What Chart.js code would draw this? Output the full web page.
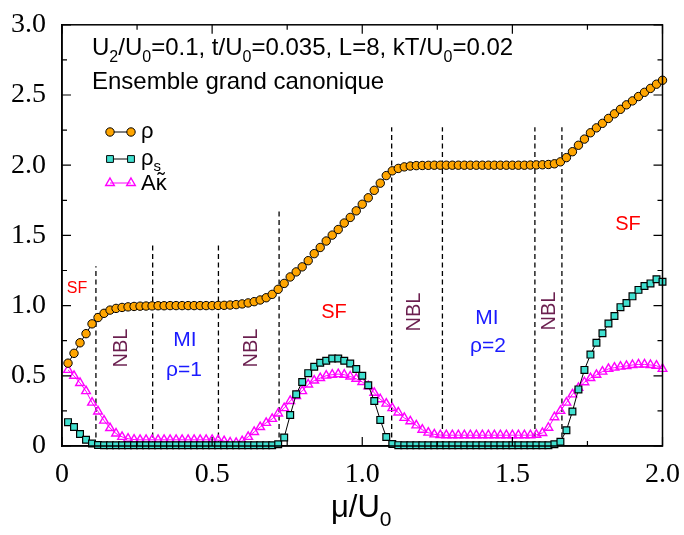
<!DOCTYPE html>
<html>
<head>
<meta charset="utf-8">
<script src="https://cdn.jsdelivr.net/npm/chart.js@4.4.0/dist/chart.umd.min.js"></script>
<style>
  html, body { margin: 0; padding: 0; background: #fff; }
</style>
</head>
<body>
<canvas id="chart" width="684" height="535"></canvas>
<script>
// mu/U0 values of the grid
var mu = [0.02,0.04,0.06,0.08,0.10,0.12,0.14,0.16,0.18,0.20,
  0.22,0.24,0.26,0.28,0.30,0.32,0.34,0.36,0.38,0.40,
  0.42,0.44,0.46,0.48,0.50,0.52,0.54,0.56,0.58,0.60,
  0.62,0.64,0.66,0.68,0.70,0.72,0.74,0.76,0.78,0.80,
  0.82,0.84,0.86,0.88,0.90,0.92,0.94,0.96,0.98,1.00,
  1.02,1.04,1.06,1.08,1.10,1.12,1.14,1.16,1.18,1.20,
  1.22,1.24,1.26,1.28,1.30,1.32,1.34,1.36,1.38,1.40,
  1.42,1.44,1.46,1.48,1.50,1.52,1.54,1.56,1.58,1.60,
  1.62,1.64,1.66,1.68,1.70,1.72,1.74,1.76,1.78,1.80,
  1.82,1.84,1.86,1.88,1.90,1.92,1.94,1.96,1.98,2.00];

// density rho
var rho = [0.59,0.66,0.735,0.80,0.87,0.915,0.945,0.968,0.98,0.987,
  0.991,0.994,0.996,0.997,0.998,0.999,0.999,1.0,1.0,1.0,
  1.0,1.0,1.0,1.0,1.0,1.001,1.002,1.004,1.007,1.012,
  1.019,1.028,1.04,1.056,1.08,1.116,1.158,1.204,1.24,1.276,
  1.32,1.37,1.414,1.46,1.502,1.542,1.588,1.628,1.675,1.722,
  1.768,1.821,1.872,1.926,1.96,1.977,1.988,1.994,1.997,1.998,
  1.999,2.0,2.0,2.0,2.0,2.0,2.0,2.0,2.0,2.0,
  2.0,2.0,2.0,2.0,2.0,2.0,2.0,2.001,2.002,2.003,
  2.005,2.01,2.024,2.054,2.096,2.142,2.186,2.231,2.266,2.298,
  2.333,2.366,2.398,2.43,2.458,2.489,2.519,2.547,2.577,2.605];

// superfluid density rho_s
var rhoS = [0.17,0.135,0.085,0.045,0.018,0.007,0.005,0.005,0.005,0.005,
  0.005,0.005,0.005,0.005,0.005,0.005,0.005,0.005,0.005,0.005,
  0.005,0.005,0.005,0.005,0.005,0.005,0.005,0.005,0.005,0.005,
  0.005,0.005,0.005,0.005,0.005,0.012,0.061,0.221,0.368,0.456,
  0.519,0.565,0.593,0.607,0.623,0.623,0.607,0.588,0.549,0.50,
  0.433,0.321,0.186,0.064,0.014,0.006,0.005,0.005,0.005,0.005,
  0.005,0.005,0.005,0.005,0.005,0.005,0.005,0.005,0.005,0.005,
  0.005,0.005,0.005,0.005,0.005,0.005,0.005,0.005,0.005,0.005,
  0.005,0.012,0.03,0.112,0.246,0.403,0.542,0.651,0.735,0.803,
  0.872,0.926,0.989,1.019,1.066,1.112,1.14,1.158,1.188,1.17];

// compressibility A*kappa
var aKappa = [0.542,0.50,0.449,0.391,0.309,0.246,0.181,0.128,0.089,0.065,
  0.052,0.046,0.044,0.044,0.044,0.044,0.044,0.044,0.044,0.044,
  0.044,0.044,0.044,0.044,0.044,0.042,0.035,0.025,0.022,0.035,
  0.065,0.10,0.135,0.165,0.193,0.232,0.27,0.321,0.356,0.391,
  0.438,0.466,0.484,0.501,0.508,0.512,0.508,0.495,0.479,0.456,
  0.426,0.379,0.333,0.302,0.27,0.239,0.2,0.176,0.147,0.116,
  0.095,0.083,0.078,0.077,0.077,0.077,0.077,0.077,0.077,0.077,
  0.077,0.077,0.077,0.077,0.077,0.077,0.077,0.077,0.08,0.093,
  0.13,0.205,0.25,0.309,0.368,0.414,0.454,0.484,0.507,0.53,
  0.549,0.558,0.565,0.57,0.577,0.581,0.581,0.577,0.572,0.549];

// dashed phase boundaries (mu position, top of the line)
var phaseBounds = [0.113, 0.302, 0.521, 0.723, 1.098, 1.267, 1.575, 1.665];
var boundTops = [1.28, 1.43, 1.43, 1.68, 2.27, 2.27, 2.27, 2.27];

var xTickLabels = ['0', '0.5', '1.0', '1.5', '2.0'];
var yTickLabels = ['0', '0.5', '1.0', '1.5', '2.0', '2.5', '3.0'];

var SANS = '"Liberation Sans", Arial, sans-serif';
var SERIF = '"Liberation Serif", "Times New Roman", serif';

// tick labels use the default font
Chart.defaults.font.family = SERIF;
Chart.defaults.font.size = 28;
Chart.defaults.color = '#000';

function pts(vals) {
  return mu.map(function (m, i) { return { x: m, y: vals[i] }; });
}

var datasets = [
  { label: 'rho', data: pts(rho), borderColor: '#000', borderWidth: 1,
    pointStyle: 'circle', pointRadius: 4.2, pointBackgroundColor: '#ffa500',
    pointBorderColor: '#000', pointBorderWidth: 1, clip: false },
  { label: 'rhoS', data: pts(rhoS), borderColor: '#000', borderWidth: 1,
    pointStyle: 'rect', pointRadius: 4.8, pointBackgroundColor: '#40e0d0',
    pointBorderColor: '#000', pointBorderWidth: 1.2, clip: false },
  { label: 'aKappa', data: pts(aKappa), borderColor: '#ff00ff', borderWidth: 1,
    pointStyle: 'triangle', pointRadius: 5, pointBackgroundColor: 'rgba(0,0,0,0)',
    pointBorderColor: '#ff00ff', pointBorderWidth: 1.4, clip: false }
];
phaseBounds.forEach(function (b, i) {
  datasets.push({ label: 'bound' + i, data: [{ x: b, y: 0 }, { x: b, y: boundTops[i] }],
    borderColor: '#000', borderWidth: 1.3, borderDash: [5, 3.5], pointRadius: 0, fill: false });
});

// subscripted text helper
function richText(ctx, x, y, parts, size, color) {
  ctx.fillStyle = color;
  ctx.textAlign = 'left';
  ctx.textBaseline = 'alphabetic';
  parts.forEach(function (p) {
    var sub = p[1] === 'sub';
    ctx.font = (sub ? Math.round(size * 0.68) : size) + 'px ' + SANS;
    ctx.fillText(p[0], x, sub ? y + size * 0.28 : y);
    x += ctx.measureText(p[0]).width;
  });
  return x;
}

function centerText(ctx, txt, x, y, size, color, rot) {
  ctx.save();
  ctx.translate(x, y);
  if (rot) ctx.rotate(-Math.PI / 2);
  ctx.font = size + 'px ' + SANS;
  ctx.fillStyle = color;
  ctx.textAlign = 'center';
  ctx.textBaseline = 'middle';
  ctx.fillText(txt, 0, 0);
  ctx.restore();
}

var framePlugin = {
  id: 'frame',
  afterDraw: function (chart) {
    var ctx = chart.ctx;
    var a = chart.chartArea;
    var xs = chart.scales.x, ys = chart.scales.y;
    ctx.save();
    ctx.strokeStyle = '#000';
    ctx.lineWidth = 1.5;
    ctx.strokeRect(a.left, a.top, a.right - a.left, a.bottom - a.top);
    ctx.lineWidth = 1.2;
    ctx.beginPath();
    xs.ticks.forEach(function (t) {
      var px = xs.getPixelForValue(t.value);
      var len = Math.abs(t.value * 2 - Math.round(t.value * 2)) < 1e-6 ? 9 : 5;
      ctx.moveTo(px, a.bottom); ctx.lineTo(px, a.bottom - len);
      ctx.moveTo(px, a.top); ctx.lineTo(px, a.top + len);
    });
    ys.ticks.forEach(function (t) {
      var py = ys.getPixelForValue(t.value);
      var len = Math.abs(t.value * 2 - Math.round(t.value * 2)) < 1e-6 ? 9 : 5;
      ctx.moveTo(a.left, py); ctx.lineTo(a.left + len, py);
      ctx.moveTo(a.right, py); ctx.lineTo(a.right - len, py);
    });
    ctx.stroke();

    // header texts
    richText(ctx, 92, 55, [['U', ''], ['2', 'sub'], ['/U', ''], ['0', 'sub'], ['=0.1, t/U', ''],
      ['0', 'sub'], ['=0.035, L=8, kT/U', ''], ['0', 'sub'], ['=0.02', '']], 24, '#000');
    richText(ctx, 92, 89, [['Ensemble grand canonique', '']], 24, '#000');

    // legend
    var leg = [
      { y: 132, kind: 'circle', line: '#000', fill: '#ffa500', stroke: '#000' },
      { y: 159, kind: 'rect', line: '#000', fill: '#40e0d0', stroke: '#000' },
      { y: 183, kind: 'tri', line: '#ff00ff', fill: null, stroke: '#ff00ff' }
    ];
    leg.forEach(function (l) {
      ctx.strokeStyle = l.line; ctx.lineWidth = 1;
      ctx.beginPath(); ctx.moveTo(110, l.y); ctx.lineTo(131, l.y); ctx.stroke();
      [110, 131].forEach(function (cx) {
        ctx.beginPath();
        if (l.kind === 'circle') ctx.arc(cx, l.y, 4.2, 0, Math.PI * 2);
        else if (l.kind === 'rect') ctx.rect(cx - 3.4, l.y - 3.4, 6.8, 6.8);
        else { ctx.moveTo(cx, l.y - 5); ctx.lineTo(cx + 4.3, l.y + 2.5); ctx.lineTo(cx - 4.3, l.y + 2.5); ctx.closePath(); }
        if (l.fill) { ctx.fillStyle = l.fill; ctx.fill(); }
        ctx.strokeStyle = l.stroke; ctx.lineWidth = l.kind === 'tri' ? 1.4 : 1; ctx.stroke();
      });
    });
    richText(ctx, 141, 138, [['ρ', '']], 22, '#000');
    richText(ctx, 141, 165, [['ρ', ''], ['s', 'sub']], 22, '#000');
    var ax = richText(ctx, 141, 190, [['A', '']], 22, '#000');
    var kx = richText(ctx, ax, 190, [['κ', '']], 22, '#000');
    ctx.font = '22px ' + SANS;
    ctx.textAlign = 'center';
    ctx.fillText('˜', (ax + kx) / 2, 188);

    // phase labels
    centerText(ctx, 'SF', 77, 289, 16, '#ff0000');
    centerText(ctx, 'SF', 334, 312, 20, '#ff0000');
    centerText(ctx, 'SF', 628, 224, 20, '#ff0000');
    centerText(ctx, 'NBL', 121, 348, 20, '#6b1f4f', true);
    centerText(ctx, 'NBL', 251, 348, 20, '#6b1f4f', true);
    centerText(ctx, 'NBL', 414, 312, 20, '#6b1f4f', true);
    centerText(ctx, 'NBL', 549, 311, 20, '#6b1f4f', true);
    centerText(ctx, 'MI', 185, 340, 21, '#1a1aff');
    centerText(ctx, 'ρ=1', 184, 370, 21, '#1a1aff');
    centerText(ctx, 'MI', 487, 318, 21, '#1a1aff');
    centerText(ctx, 'ρ=2', 488, 346, 21, '#1a1aff');

    // x axis title
    richText(ctx, 331, 517, [['μ/U', ''], ['0', 'sub']], 31, '#000');
    ctx.restore();
  }
};

new Chart(document.getElementById('chart'), {
  type: 'line',
  data: { datasets: datasets },
  options: {
    responsive: false,
    animation: false,
    devicePixelRatio: 1,
    layout: { padding: { left: 0, right: 19, top: 16, bottom: 0 } },
    plugins: { legend: { display: false }, tooltip: { enabled: false } },
    scales: {
      x: {
        type: 'linear', min: 0, max: 2,
        afterFit: function (s) { s.height = 89; },
        grid: { display: false },
        border: { display: true, color: '#000', width: 1.5 },
        ticks: {
          stepSize: 0.25, autoSkip: false, maxRotation: 0, padding: 4, color: '#000',
          font: { family: SERIF, size: 28 },
          callback: function (v) {
            var k = Math.round(v * 2);
            return Math.abs(v * 2 - k) < 1e-6 ? xTickLabels[k] : '';
          }
        }
      },
      y: {
        type: 'linear', min: 0, max: 3,
        afterFit: function (s) { s.width = 62; },
        grid: { display: false },
        border: { display: true, color: '#000', width: 1.5 },
        ticks: {
          stepSize: 0.25, autoSkip: false, padding: 8, color: '#000',
          font: { family: SERIF, size: 28 },
          callback: function (v) {
            var k = Math.round(v * 2);
            return Math.abs(v * 2 - k) < 1e-6 ? yTickLabels[k] : '';
          }
        }
      }
    }
  },
  plugins: [framePlugin]
});
</script>
</body>
</html>
